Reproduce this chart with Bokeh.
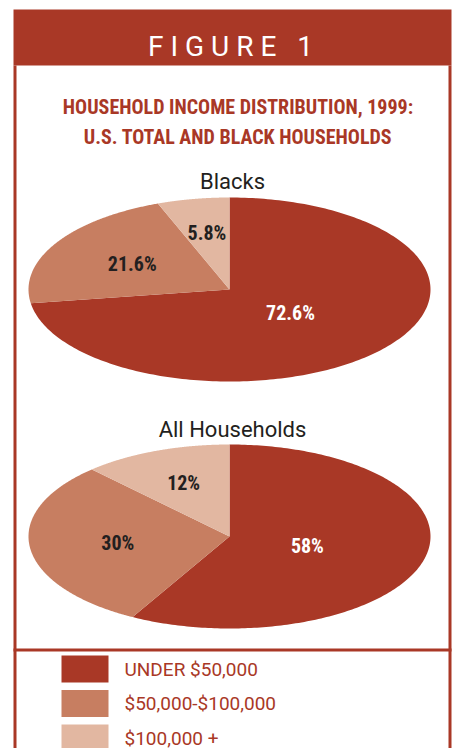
import numpy as np
from bokeh.plotting import figure
from bokeh.models import Range1d
from bokeh.core.properties import value
from bokeh.embed import file_html
from bokeh.resources import INLINE

# ---- data ----
categories = ["UNDER $50,000", "$50,000-$100,000", "$100,000 +"]
blacks_values = [72.6, 21.6, 5.8]
blacks_labels = ["72.6%", "21.6%", "5.8%"]
all_values = [58, 30, 12]
all_labels = ["58%", "30%", "12%"]

# ---- style ----
RED = "#A93826"
colors = ["#A93826", "#C77E61", "#E2B7A1"]
label_colors = ["#FFFFFF", "#231F20", "#231F20"]
DARK = "#231F20"
SANS = value("Roboto")
COND = value("Roboto Condensed")

W, H = 452, 748
p = figure(width=W, height=H, x_range=Range1d(0, 452), y_range=Range1d(748, 0),
           output_backend="svg", toolbar_location=None,
           x_axis_location=None, y_axis_location=None, min_border=0)
p.grid.visible = False
p.outline_line_color = None
p.background_fill_color = "white"
p.border_fill_color = "white"

# header band and frame
p.quad(left=[13], right=[451], top=[9], bottom=[65], fill_color=RED, line_color=None)
p.quad(left=[13, 448, 13], right=[16, 451, 451], top=[65, 65, 648], bottom=[760, 760, 651],
       fill_color=RED, line_color=None)

NB = "\u00a0"
p.text(x=[230], y=[46], text=[NB.join("FIGURE") + NB * 3 + "1"], text_color="white",
       text_font=SANS, text_font_size="28px", text_align="center", text_baseline="alphabetic")

p.text(x=[237.5, 237.5], y=[106, 136],
       text=["HOUSEHOLD INCOME DISTRIBUTION, 1999:", "U.S. TOTAL AND BLACK HOUSEHOLDS"],
       text_color=RED, text_font=COND, text_font_style="bold",
       text_font_size="20px", text_align="center", text_baseline="alphabetic")

label_r = [0.4, 0.56, 0.62]


def pie(vals, labels, title, cx, cy, a, b, title_y):
    total = float(sum(vals))
    cum = np.cumsum([0.0] + list(vals)) / total * 2 * np.pi
    xs, ys = [], []
    for i in range(len(vals)):
        t = np.linspace(cum[i], cum[i + 1], 240)
        xs.append(np.concatenate([[cx], cx + a * np.sin(t)]))
        ys.append(np.concatenate([[cy], cy - b * np.cos(t)]))
    p.patches(xs, ys, fill_color=colors, line_color=None)
    mids = (cum[:-1] + cum[1:]) / 2
    r = np.array(label_r)
    lx = cx + a * r * np.sin(mids)
    ly = cy - b * r * np.cos(mids)
    p.text(lx, ly, text=labels, text_color=label_colors, text_align="center",
           text_baseline="middle", text_font=COND, text_font_style="bold",
           text_font_size="20px")
    p.text(x=[cx + 3], y=[title_y], text=[title], text_color=DARK, text_font=SANS,
           text_font_size="22px", text_align="center", text_baseline="alphabetic")


pie(blacks_values, blacks_labels, "Blacks", 229, 289, 201, 92, 181)
pie(all_values, all_labels, "All Households", 229, 536, 201, 92, 429)

# legend
n = len(categories)
ly0 = 668.5
step = 34.5
ys = [ly0 + i * step for i in range(n)]
p.rect(x=[84.5] * n, y=ys, width=47, height=27, fill_color=colors, line_color=None)
p.text(x=[124] * n, y=ys, text=categories, text_color=RED, text_font=SANS,
       text_font_size="19px", text_align="left", text_baseline="middle")

open("out.html", "w").write(file_html(p, INLINE))
